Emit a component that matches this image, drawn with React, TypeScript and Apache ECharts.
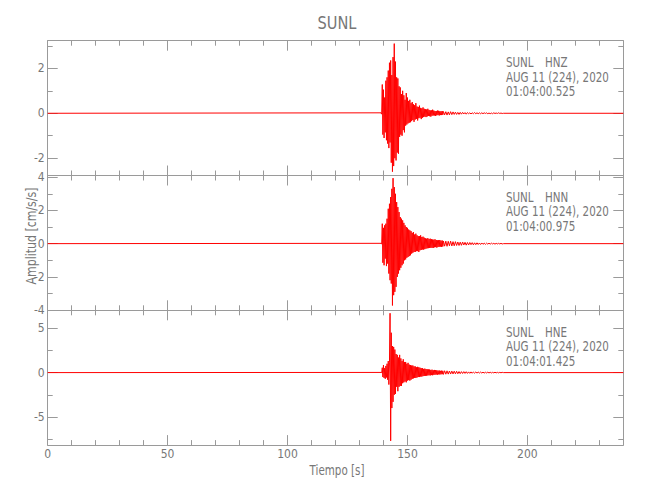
import React, { useEffect, useRef } from "react";
import * as echarts from "echarts";

// ---------- texts ----------
const STATION = "SUNL";
const CHANNELS = ["HNZ", "HNN", "HNE"];
const DATE_LABEL = "AUG 11 (224), 2020";
const START_TIMES = ["01:04:00.525", "01:04:00.975", "01:04:01.425"];
const X_TITLE = "Tiempo [s]";
const Y_TITLE = "Amplitud [cm/s/s]";

// ---------- axes ----------
const TIME_MIN = 0;
const TIME_MAX = 240;
const X_MAJOR = [0, 50, 100, 150, 200];
const X_MINOR = [10, 20, 30, 40, 60, 70, 80, 90, 110, 120, 130, 140, 160, 170, 180, 190, 210, 220, 230];

const Y_RANGES = [
  [-2.77, 3.23],
  [-4.01, 4.1],
  [-8.18, 7.03],
];
const Y_MAJOR = [
  [-2, 0, 2],
  [-4, -2, 0, 2, 4],
  [-5, 0, 5],
];
const Y_MINOR = [
  [-1, 1, 3],
  [-3, -1, 1, 3],
  [-7.5, -2.5, 2.5],
];

// ---------- sampling of the traces ----------
const EVENT_START = 139; // s
const EVENT_DT = 0.25; // s
const CODA_START = 165; // s
const CODA_DT = 0.5; // s
const CODA_END = 190; // s

// HNZ  (cm/s/s), alternating peaks read from the record
const hnzEvent = [
  0.02, -0.04, 1.28, -0.95,
  1.05, -1.1, 0.7, -0.85,
  1.45, -1.2, 1.6, -1.35,
  1.9, -1.55, 2.25, -1.3,
  2.35, -2.2, 1.7, -2.6,
  2.5, -2.35, 3.1, -2.0,
  2.3, -2.1, 1.6, -1.75,
  1.55, -1.8, 1.2, -1.05,
  1.15, -0.95, 0.85, -1.0,
  1.0, -0.75, 0.8, -0.85,
  0.6, -0.55, 0.9, -0.5,
  0.7, -0.45, 0.55, -0.42,
  0.6, -0.4, 0.45, -0.35,
  0.5, -0.3, 0.4, -0.38,
  0.36, -0.28, 0.45, -0.25,
  0.3, -0.32, 0.28, -0.22,
  0.34, -0.2, 0.24, -0.26,
  0.22, -0.2, 0.26, -0.17,
  0.2, -0.15, 0.18, -0.17,
  0.17, -0.14, 0.2, -0.12,
  0.15, -0.13, 0.13, -0.15,
  0.13, -0.11, 0.16, -0.1,
  0.12, -0.1, 0.1, -0.12,
  0.1, -0.09, 0.12, -0.08,
  0.11, -0.1, 0.09, -0.08,
  0.09, -0.08, 0.1, -0.07,
];
const hnzCoda = [
  0.08, -0.07, 0.07, -0.08, 0.06, -0.07, 0.07, -0.06, 0.06, -0.05,
  0.05, -0.05, 0.04, -0.05, 0.04, -0.04, 0.04, -0.03, 0.03, -0.04,
  0.03, -0.02, 0.02, -0.03, 0.02, -0.02, 0.03, -0.02, 0.02, -0.02,
  0.02, -0.02, 0.02, -0.02, 0.02, -0.01, 0.02, -0.02, 0.01, -0.02,
  0.01, -0.02, 0.02, -0.01, 0.01, -0.01, 0.02, -0.01, 0.01, -0.01,
];

// HNN
const hnnEvent = [
  0.02, -0.03, 1.2, -1.15,
  0.95, -1.3, 1.1, -0.9,
  1.2, -1.35, 1.5, -1.2,
  2.1, -1.8, 2.4, -2.2,
  2.8, -2.4, 3.3, -3.72,
  3.94, -3.1, 3.4, -2.9,
  3.0, -2.6, 2.5, -2.0,
  2.2, -1.8, 1.9, -1.6,
  1.6, -1.45, 1.5, -1.3,
  1.4, -1.2, 1.25, -1.0,
  1.1, -0.95, 1.0, -0.85,
  0.95, -0.8, 0.85, -0.75,
  0.8, -0.7, 0.75, -0.6,
  0.65, -0.55, 0.7, -0.5,
  0.55, -0.5, 0.6, -0.45,
  0.5, -0.45, 0.45, -0.5,
  0.45, -0.4, 0.5, -0.38,
  0.4, -0.35, 0.42, -0.36,
  0.36, -0.33, 0.32, -0.3,
  0.3, -0.28, 0.33, -0.27,
  0.28, -0.26, 0.3, -0.25,
  0.27, -0.25, 0.25, -0.26,
  0.24, -0.22, 0.26, -0.21,
  0.22, -0.24, 0.2, -0.2,
  0.21, -0.19, 0.22, -0.18,
  0.18, -0.2, 0.19, -0.17,
];
const hnnCoda = [
  0.16, -0.15, 0.15, -0.16, 0.14, -0.13, 0.15, -0.14, 0.12, -0.13,
  0.12, -0.11, 0.1, -0.11, 0.09, -0.1, 0.1, -0.08, 0.08, -0.09,
  0.07, -0.08, 0.07, -0.06, 0.06, -0.07, 0.05, -0.06, 0.05, -0.05,
  0.04, -0.05, 0.04, -0.04, 0.03, -0.04, 0.03, -0.03, 0.03, -0.03,
  0.03, -0.02, 0.02, -0.03, 0.02, -0.02, 0.02, -0.02, 0.02, -0.02,
];

// HNE
const hneEvent = [
  0.02, -0.05, 0.55, -0.5,
  0.85, -0.6, 0.5, -0.7,
  0.75, -0.55, 1.0, -0.8,
  1.3, -1.35, 1.1, 6.7,
  -7.7, 4.5, -4.0, 3.0,
  -3.3, 2.9, -2.5, 2.6,
  -2.4, 2.1, -1.6, 2.0,
  -2.1, 1.7, -1.6, 2.0,
  -1.5, 1.6, -1.5, 1.3,
  -1.2, 1.5, -1.1, 1.2,
  -1.0, 1.2, -1.1, 1.0,
  -0.9, 1.1, -0.85, 0.9,
  -0.9, 0.85, -0.8, 0.8,
  -0.7, 0.8, -0.65, 0.7,
  -0.6, 0.7, -0.6, 0.6,
  -0.55, 0.65, -0.5, 0.6,
  -0.5, 0.55, -0.45, 0.5,
  -0.45, 0.5, -0.4, 0.42,
  -0.38, 0.45, -0.36, 0.4,
  -0.35, 0.38, -0.32, 0.36,
  -0.3, 0.35, -0.32, 0.3,
  -0.28, 0.33, -0.3, 0.27,
  -0.25, 0.3, -0.24, 0.28,
  -0.22, 0.26, -0.24, 0.22,
  -0.2, 0.24, -0.21, 0.2,
  -0.19, 0.22, -0.18, 0.2,
];
const hneCoda = [
  -0.2, 0.21, -0.18, 0.2, -0.17, 0.18, -0.16, 0.17, -0.15, 0.16,
  -0.14, 0.15, -0.13, 0.12, -0.12, 0.11, -0.1, 0.11, -0.09, 0.1,
  -0.09, 0.08, -0.08, 0.08, -0.07, 0.07, -0.06, 0.07, -0.06, 0.06,
  -0.05, 0.06, -0.05, 0.05, -0.05, 0.04, -0.04, 0.05, -0.04, 0.04,
  -0.04, 0.03, -0.03, 0.04, -0.03, 0.03, -0.03, 0.03, -0.02, 0.03,
];

const TRACES = [
  { event: hnzEvent, coda: hnzCoda },
  { event: hnnEvent, coda: hnnCoda },
  { event: hneEvent, coda: hneCoda },
];

// ---------- style ----------
const FONT = "'Liberation Sans Narrow', 'DejaVu Sans Condensed', 'Roboto Condensed', 'Liberation Sans', sans-serif";
const AXIS_COLOR = "#9a9a9a";
const TEXT_COLOR = "#777777";
const TRACE_COLOR = "#ff0000";
const TEXT_SQUEEZE = 0.82;

const GRID_LEFT = 47.7;
const GRID_RIGHT = 26.7;
const GRID_TOP = 40.7;
const PANEL_H = 134.8;

function buildTrace(event: number[], coda: number[]): [number, number][] {
  const pts: [number, number][] = [[TIME_MIN, 0]];
  event.forEach((v, i) => pts.push([EVENT_START + i * EVENT_DT, v]));
  coda.forEach((v, i) => pts.push([CODA_START + i * CODA_DT, v]));
  pts.push([CODA_END, 0]);
  pts.push([TIME_MAX, 0]);
  return pts;
}

function buildOption() {
  const grids: any[] = [];
  const xAxes: any[] = [];
  const yAxes: any[] = [];
  const series: any[] = [];
  const graphics: any[] = [];

  const lineStyle = { color: AXIS_COLOR, width: 1 };
  const labelStyle = { color: TEXT_COLOR, fontSize: 12, fontFamily: FONT };

  for (let i = 0; i < 3; i++) {
    const top = GRID_TOP + i * PANEL_H;
    grids.push({ left: GRID_LEFT, right: GRID_RIGHT, top, height: PANEL_H, containLabel: false });

    const xBase = { gridIndex: i, type: "value", min: TIME_MIN, max: TIME_MAX, splitLine: { show: false } };
    xAxes.push({
      ...xBase,
      position: "bottom",
      axisLine: { show: true, onZero: false, lineStyle },
      axisTick: { show: true, inside: true, length: 10, customValues: X_MAJOR, lineStyle },
      axisLabel: { show: i === 2, customValues: X_MAJOR, margin: 3, ...labelStyle },
    });
    xAxes.push({
      ...xBase,
      position: "top",
      axisLine: { show: true, onZero: false, lineStyle },
      axisTick: { show: true, inside: true, length: 10, customValues: X_MAJOR, lineStyle },
      axisLabel: { show: false },
    });
    for (const pos of ["bottom", "top"]) {
      xAxes.push({
        ...xBase,
        position: pos,
        axisLine: { show: false, onZero: false },
        axisTick: { show: true, inside: true, length: 5, customValues: X_MINOR, lineStyle },
        axisLabel: { show: false },
      });
    }

    const yBase = { gridIndex: i, type: "value", min: Y_RANGES[i][0], max: Y_RANGES[i][1], splitLine: { show: false } };
    yAxes.push({
      ...yBase,
      position: "left",
      axisLine: { show: true, onZero: false, lineStyle },
      axisTick: { show: true, inside: true, length: 10, customValues: Y_MAJOR[i], lineStyle },
      axisLabel: { show: true, customValues: Y_MAJOR[i], margin: 3, ...labelStyle },
    });
    yAxes.push({
      ...yBase,
      position: "right",
      axisLine: { show: true, onZero: false, lineStyle },
      axisTick: { show: true, inside: true, length: 10, customValues: Y_MAJOR[i], lineStyle },
      axisLabel: { show: false },
    });
    for (const pos of ["left", "right"]) {
      yAxes.push({
        ...yBase,
        position: pos,
        axisLine: { show: false, onZero: false },
        axisTick: { show: true, inside: true, length: 5, customValues: Y_MINOR[i], lineStyle },
        axisLabel: { show: false },
      });
    }

    series.push({
      type: "line",
      name: `${STATION} ${CHANNELS[i]}`,
      xAxisIndex: i * 4,
      yAxisIndex: i * 4,
      data: buildTrace(TRACES[i].event, TRACES[i].coda),
      showSymbol: false,
      symbol: "none",
      lineStyle: { color: TRACE_COLOR, width: 1 },
      itemStyle: { color: TRACE_COLOR },
      clip: true,
      z: 1,
    });

    const annX = 506;
    const annY = top + 21.5;
    const annStyle = { fill: TEXT_COLOR, fontSize: 14, fontFamily: FONT, align: "left", verticalAlign: "middle" };
    const sq = { scaleX: TEXT_SQUEEZE };
    graphics.push({ type: "text", x: annX, y: annY, ...sq, style: { ...annStyle, text: STATION } });
    graphics.push({ type: "text", x: annX + 39, y: annY, ...sq, style: { ...annStyle, text: CHANNELS[i] } });
    graphics.push({ type: "text", x: annX, y: annY + 14.5, ...sq, style: { ...annStyle, text: DATE_LABEL } });
    graphics.push({ type: "text", x: annX, y: annY + 29, ...sq, style: { ...annStyle, text: START_TIMES[i] } });
  }

  graphics.push({
    type: "text",
    x: 337,
    y: 22.5,
    scaleX: 0.9,
    style: { text: STATION, fill: TEXT_COLOR, fontSize: 18, fontFamily: FONT, align: "center", verticalAlign: "middle" },
  });
  graphics.push({
    type: "text",
    x: 337,
    y: 470,
    scaleX: TEXT_SQUEEZE,
    style: { text: X_TITLE, fill: TEXT_COLOR, fontSize: 14, fontFamily: FONT, align: "center", verticalAlign: "middle" },
  });
  graphics.push({
    type: "text",
    x: 31,
    y: 236,
    rotation: Math.PI / 2,
    scaleX: 0.87,
    style: { text: Y_TITLE, fill: TEXT_COLOR, fontSize: 14, fontFamily: FONT, align: "center", verticalAlign: "middle" },
  });

  return {
    animation: false,
    backgroundColor: "#ffffff",
    grid: grids,
    xAxis: xAxes,
    yAxis: yAxes,
    series,
    graphic: graphics,
  };
}

export default function App() {
  const ref = useRef<HTMLDivElement>(null);
  useEffect(() => {
    if (!ref.current) return;
    const chart = echarts.init(ref.current, undefined, { renderer: "svg" });
    chart.setOption(buildOption() as any);
    return () => chart.dispose();
  }, []);
  return <div ref={ref} style={{ position: "fixed", left: 0, top: 0, width: 650, height: 500, background: "#fff" }} />;
}
